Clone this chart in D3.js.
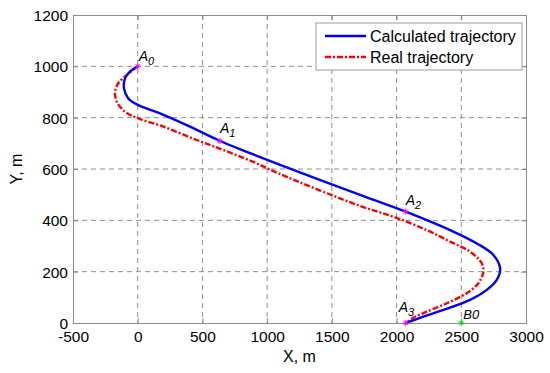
<!DOCTYPE html>
<html><head><meta charset="utf-8">
<script src="https://cdn.jsdelivr.net/npm/d3@7"></script>
<style>body{margin:0;background:#fff}svg{display:block}text{font-family:Arial,"Liberation Sans",sans-serif}</style>
</head><body><svg id="c" width="550" height="373"></svg>
<script>
const xTicks = [-500, 0, 500, 1000, 1500, 2000, 2500, 3000];
const yTicks = [0, 200, 400, 600, 800, 1000, 1200];
const calcX = [0, -60, -98, -106, -73, 5, 172, 379, 636, 842, 1100, 1718, 2071, 2233, 2413, 2620, 2748, 2800, 2774, 2697, 2568, 2362, 2207, 2071];
const calcY = [1000, 979, 953, 914, 875, 849, 817, 771, 709, 667, 616, 499, 434, 401, 362, 310, 265, 213, 168, 129, 90, 51, 25, 0];
const realX = [0, -21, -85, -150, -175, -162, -98, 5, 198, 456, 662, 893, 1087, 1718, 1975, 2233, 2413, 2568, 2658, 2671, 2632, 2542, 2388, 2233, 2130, 2075];
const realY = [1000, 992, 966, 934, 901, 862, 823, 797, 765, 713, 674, 628, 583, 456, 414, 362, 317, 278, 233, 200, 155, 116, 77, 44, 21, 1];
const pointNames = ["A", "A", "A", "A"];
const pointSubs = ["0", "1", "2", "3"];
const pointX = [0, 636, 2071, 2071];
const pointY = [1000, 709, 434, 0];
const bName = ["B0"];
const bX = [2500];
const bY = [0];
const seriesNames = ["Calculated trajectory", "Real trajectory"];

const svg = d3.select("#c");
const L = 73, R = 526, T = 15, B = 323;
const x = d3.scaleLinear().domain([-500, 3000]).range([L, R]);
const y = d3.scaleLinear().domain([0, 1200]).range([B, T]);
const fmt = d => String(d);

// grid
const g = svg.append("g");
g.selectAll(".gx").data(xTicks.slice(1, -1)).enter().append("line")
  .attr("x1", d => x(d)).attr("x2", d => x(d)).attr("y1", T).attr("y2", B)
  .attr("stroke", "#8f8f8f").attr("stroke-width", 1).attr("stroke-dasharray", "5,4");
g.selectAll(".gy").data(yTicks.slice(1, -1)).enter().append("line")
  .attr("x1", L).attr("x2", R).attr("y1", d => y(d)).attr("y2", d => y(d))
  .attr("stroke", "#8f8f8f").attr("stroke-width", 1).attr("stroke-dasharray", "5,4");

// axes
const xa = svg.append("g").attr("transform", `translate(0,${B})`)
  .call(d3.axisBottom(x).tickValues(xTicks).tickSize(-5).tickFormat(fmt));
const ya = svg.append("g").attr("transform", `translate(${L},0)`)
  .call(d3.axisLeft(y).tickValues(yTicks).tickSize(-5).tickFormat(fmt));
const xt = svg.append("g").attr("transform", `translate(0,${T})`)
  .call(d3.axisTop(x).tickValues(xTicks).tickSize(-5).tickFormat(""));
const yr = svg.append("g").attr("transform", `translate(${R},0)`)
  .call(d3.axisRight(y).tickValues(yTicks).tickSize(-5).tickFormat(""));
[xa, ya, xt, yr].forEach(a => {
  a.selectAll("path.domain").attr("stroke", "#8c8c8c");
  a.selectAll(".tick line").attr("stroke", "#8c8c8c");
  a.selectAll("text").attr("fill", "#000").style("font-size", "15.5px").style("font-family", "Arial, 'Liberation Sans', sans-serif");
});
xa.selectAll("text").attr("y", 18.5).attr("dy", 0);
ya.selectAll("text").attr("x", -5).attr("dy", "0.35em");

// lines
const line = d3.line().x(d => x(d[0])).y(d => y(d[1])).curve(d3.curveCatmullRom.alpha(0.5));
const calc = calcX.map((v, i) => [v, calcY[i]]);
const real = realX.map((v, i) => [v, realY[i]]);
svg.append("path").datum(real).attr("d", line).attr("fill", "none")
  .attr("stroke", "#ff0000").attr("stroke-width", 2.4).attr("stroke-dasharray", "6,2,2,2");
svg.append("path").datum(calc).attr("d", line).attr("fill", "none")
  .attr("stroke", "#0000ff").attr("stroke-width", 2.4);

// markers
function star(gg, cx, cy, col) {
  const s = 3;
  [[-s,0,s,0],[0,-s,0,s],[-s*0.7,-s*0.7,s*0.7,s*0.7],[-s*0.7,s*0.7,s*0.7,-s*0.7]].forEach(l => {
    gg.append("line").attr("x1", cx + l[0]).attr("y1", cy + l[1]).attr("x2", cx + l[2]).attr("y2", cy + l[3])
      .attr("stroke", col).attr("stroke-width", 1);
  });
}
const offs = [[1, -5], [0, -8], [0, -7], [-7, -11]];
pointX.forEach((v, i) => {
  star(svg, x(v), y(pointY[i]), "#ff00ff");
  const t = svg.append("text").attr("x", x(v) + offs[i][0]).attr("y", y(pointY[i]) + offs[i][1])
    .style("font-size", "14px").style("font-style", "italic");
  t.append("tspan").text(pointNames[i]);
  t.append("tspan").attr("dy", 4).style("font-size", "11px").text(pointSubs[i]);
});
bX.forEach((v, i) => {
  star(svg, x(v), y(bY[i]), "#00e000");
  svg.append("text").attr("x", x(v) + 2).attr("y", y(bY[i]) - 4)
    .style("font-size", "13px").style("font-style", "italic").text(bName[i]);
});

// axis labels
svg.append("text").attr("x", (L + R) / 2).attr("y", 362).attr("text-anchor", "middle")
  .style("font-size", "16px").text("X, m");
svg.append("text").attr("transform", `translate(21.5,${(T + B) / 2}) rotate(-90)`).attr("text-anchor", "middle")
  .style("font-size", "16px").text("Y, m");

// legend
const lg = svg.append("g");
lg.append("rect").attr("x", 316).attr("y", 23).attr("width", 206).attr("height", 47)
  .attr("fill", "#fff").attr("stroke", "#9a9a9a").attr("stroke-width", 1);
const lstyles = [{c: "#0000ff", d: null}, {c: "#ff0000", d: "6,2,2,2"}];
seriesNames.forEach((n, i) => {
  const yy = 36 + i * 21;
  lg.append("line").attr("x1", 325).attr("x2", 366).attr("y1", yy).attr("y2", yy)
    .attr("stroke", lstyles[i].c).attr("stroke-width", 2.4).attr("stroke-dasharray", lstyles[i].d);
  lg.append("text").attr("x", 370).attr("y", yy + 6).style("font-size", "16px").text(n);
});
</script></body></html>
